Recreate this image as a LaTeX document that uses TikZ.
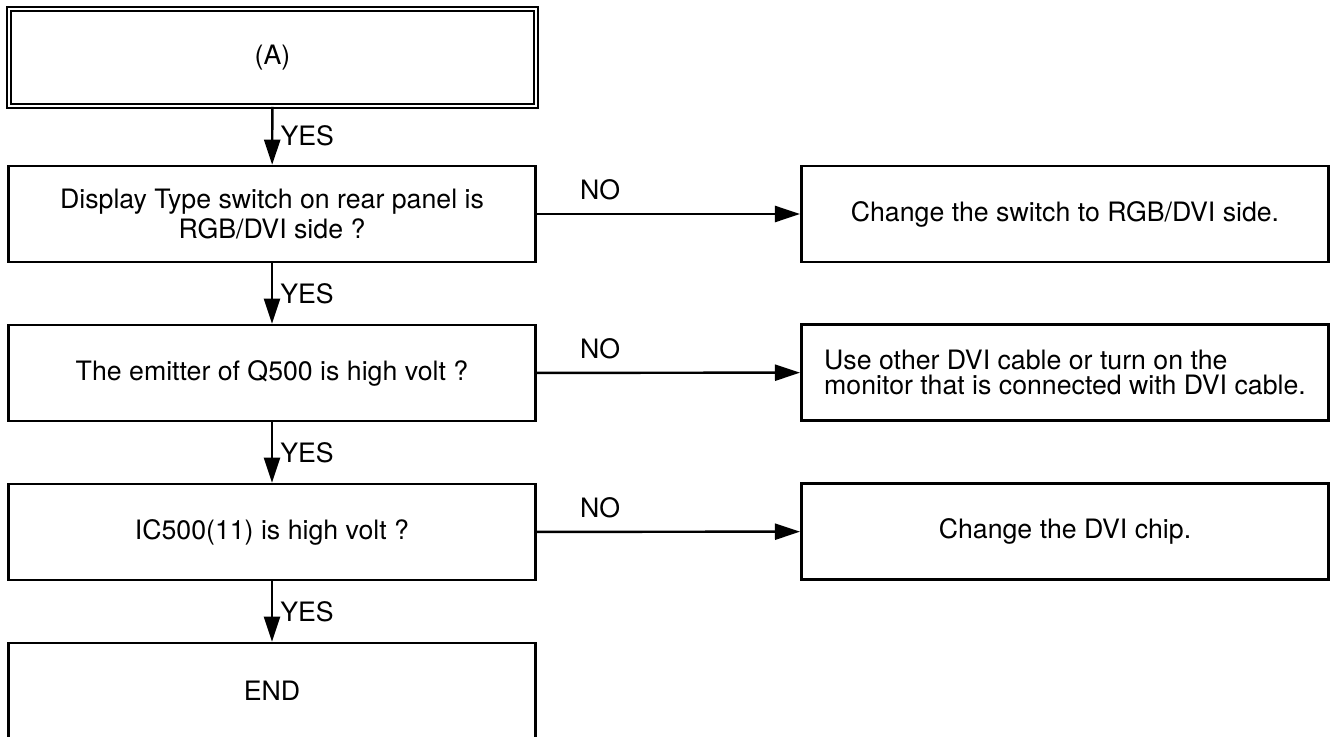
\documentclass[tikz,border=0pt]{standalone}
\usepackage{fontspec}
\setmainfont{TeX Gyre Heros}
\usetikzlibrary{arrows.meta}

\begin{document}
\begin{tikzpicture}[x=0.02cm, y=-0.02cm,
    box/.style={draw, line width=1.5pt, minimum width=10.55cm, minimum height=1.92cm, align=center, inner sep=0pt, font=\fontsize{15.2}{16.6}\selectfont},
    startbox/.style={box, line width=1.1pt, double, double distance=0.9pt, minimum width=10.54cm, minimum height=1.94cm},
    lbl/.style={inner sep=1pt, font=\fontsize{15.2}{16.6}\selectfont},
    arrow/.style={-{Triangle[length=0.5cm, width=0.32cm]}, line width=1.4pt}
]
\useasboundingbox (0,0) rectangle (1330,737);

\node[startbox] at (272.5,57.5) (start) {(A)};
\node[box] at (272,214) (rgb) {Display Type switch on rear panel is\\RGB/DVI side ?};
\node[box] at (1065,214) (setswitch) {Change the switch to RGB/DVI side.};
\node[box] at (272,373) (emitter) {The emitter of Q500 is high volt ?};
\node[box, align=left, font=\fontsize{15.2}{14.6}\selectfont] at (1065,372.5) (cable) {Use other DVI cable or turn on the\\monitor that is connected with DVI cable.};
\node[box] at (272,532) (icpin) {IC500(11) is high volt ?};
\node[box] at (1065,531.5) (chip) {Change the DVI chip.};
\node[box] at (272,691) (done) {END};

\draw[arrow] (start) -- node[lbl, right=3pt] {YES} (rgb);
\draw[arrow] (rgb) -- node[lbl, right=3pt] {YES} (emitter);
\draw[arrow] (emitter) -- node[lbl, right=3pt] {YES} (icpin);
\draw[arrow] (icpin) -- node[lbl, right=3pt] {YES} (done);

\draw[arrow] (rgb) -- node[lbl, pos=0.24, above=6pt] {NO} (setswitch);
\draw[arrow] (emitter) -- node[lbl, pos=0.24, above=6pt] {NO} (cable);
\draw[arrow] (icpin) -- node[lbl, pos=0.24, above=6pt] {NO} (chip);
\end{tikzpicture}
\end{document}
